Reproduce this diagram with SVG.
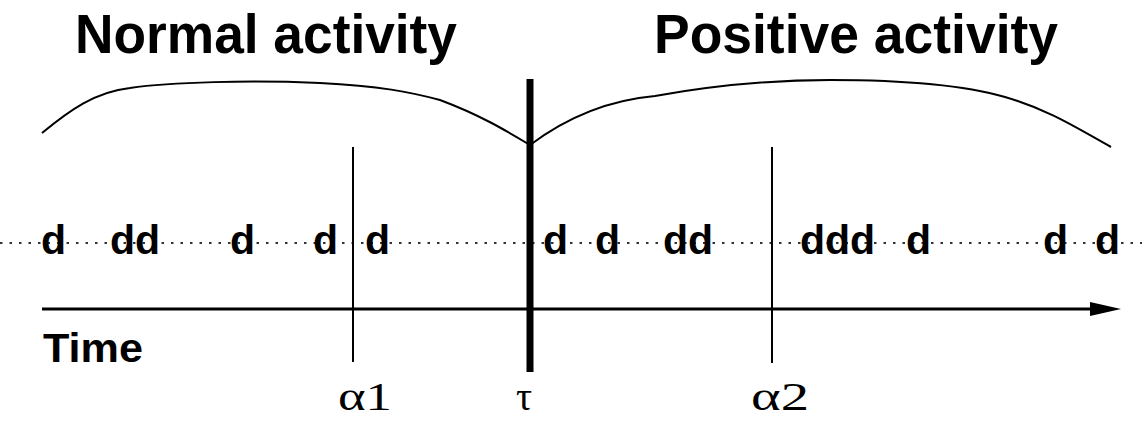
<svg xmlns="http://www.w3.org/2000/svg" width="1142" height="422" viewBox="0 0 1142 422">
<style>
.title{font-family:"Liberation Sans",Arial,sans-serif;font-weight:bold;font-size:55px;fill:#000}
.d{font-family:"Liberation Sans",Arial,sans-serif;font-weight:bold;font-size:41px;fill:#000}
.lbl{font-family:"Liberation Serif","Times New Roman",serif;font-size:40px;fill:#000}
.thin{stroke:#000;stroke-width:2;fill:none}
</style>
<rect width="1142" height="422" fill="#fff"/>
<g id="titles">
<text class="title" x="75" y="53" textLength="382" lengthAdjust="spacingAndGlyphs">Normal activity</text>
<text class="title" x="654" y="53" textLength="404" lengthAdjust="spacingAndGlyphs">Positive activity</text>
</g>
<g id="curves">
<path class="thin" d="M42,133 C70,110 95,92 130,88 C170,82 250,80 320,83 C380,86 410,92 440,100 C480,115 505,130 530,145"/>
<path class="thin" d="M530,145 C570,115 610,100 655,96 C700,88 760,80 830,80 C900,80 960,84 1005,97 C1050,110 1080,130 1111,147"/>
</g>
<g id="connectors">
<line x1="0" y1="243" x2="1142" y2="243" stroke="#333" stroke-width="2" stroke-dasharray="2.5 7"/>
<line x1="42" y1="309" x2="1095" y2="309" stroke="#000" stroke-width="3"/>
<polygon points="1090,302 1121,309 1090,316" fill="#000"/>
<line x1="353" y1="147" x2="353" y2="362" stroke="#000" stroke-width="2"/>
<line x1="772" y1="147" x2="772" y2="363" stroke="#000" stroke-width="2"/>
<line x1="530" y1="79" x2="530" y2="372" stroke="#000" stroke-width="7"/>
</g>
<g id="events">
<text class="d" x="41" y="254">d</text>
<text class="d" x="110" y="254">dd</text>
<text class="d" x="230" y="254">d</text>
<text class="d" x="313" y="254">d</text>
<text class="d" x="365" y="254">d</text>
<text class="d" x="543" y="254">d</text>
<text class="d" x="595" y="254">d</text>
<text class="d" x="663" y="254">dd</text>
<text class="d" x="800" y="254">ddd</text>
<text class="d" x="906" y="254">d</text>
<text class="d" x="1043" y="254">d</text>
<text class="d" x="1095" y="254">d</text>
</g>
<g id="time-label">
<text class="d" x="43" y="362" textLength="100" lengthAdjust="spacingAndGlyphs">Time</text>
</g>
<g id="markers">
<text class="lbl" x="338" y="410" textLength="54" lengthAdjust="spacingAndGlyphs">α1</text>
<text class="lbl" x="516" y="410">τ</text>
<text class="lbl" x="751" y="410" textLength="58" lengthAdjust="spacingAndGlyphs">α2</text>
</g>
</svg>
